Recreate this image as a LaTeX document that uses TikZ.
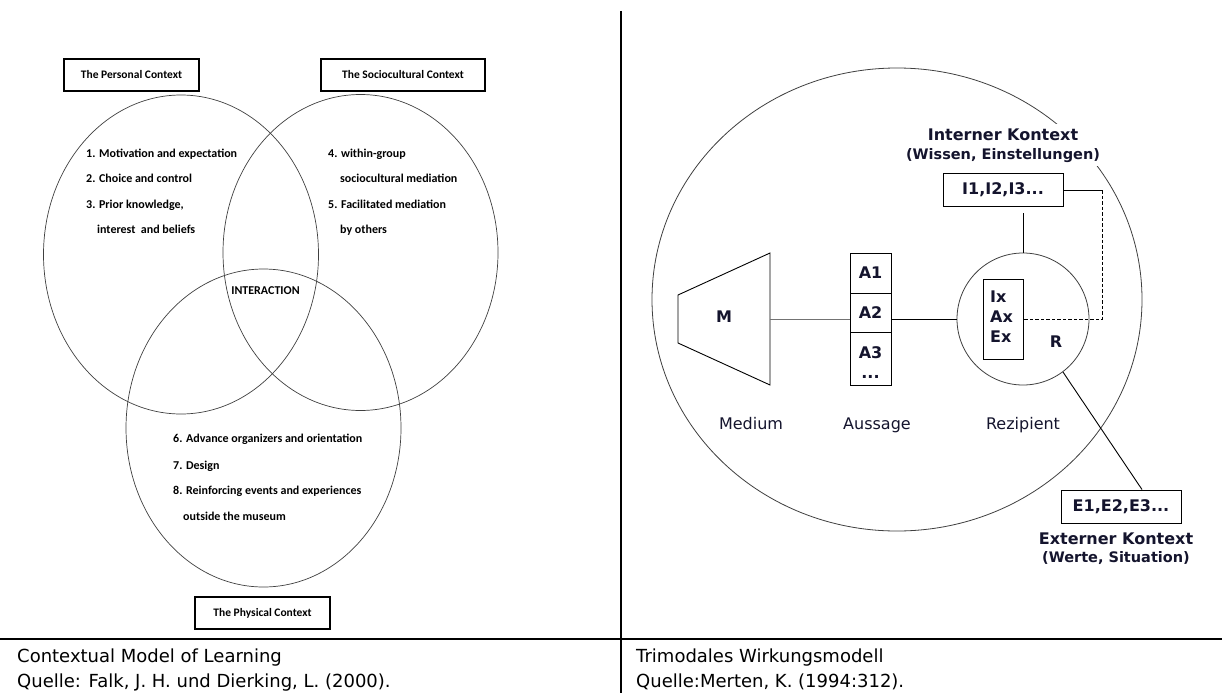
\documentclass[tikz,border=0pt]{standalone}
\usepackage{fontspec}
\usetikzlibrary{shapes.geometric}
\newfontfamily\calfont{Carlito}
\newfontfamily\verfont{DejaVu Sans}
\definecolor{ink}{RGB}{20,20,45}
\begin{document}
\begin{tikzpicture}[x=1pt,y=-1pt,
  venn/.style={ellipse, draw=black!75, line width=0.7pt, inner sep=0pt},
  ctxbox/.style={draw, line width=1.1pt, minimum height=32pt, inner sep=0pt,
    font=\calfont\bfseries\fontsize{11.5}{13}\selectfont},
  item/.style={anchor=base west, inner sep=0pt,
    font=\calfont\bfseries\fontsize{12}{14}\selectfont},
  rlabel/.style={anchor=base, inner sep=0pt, text=ink,
    font=\verfont\fontsize{16}{20}\selectfont},
  rbold/.style={anchor=base, inner sep=0pt, text=ink,
    font=\verfont\bfseries\fontsize{16}{20}\selectfont},
  rparen/.style={anchor=base, inner sep=0pt, text=ink,
    font=\verfont\bfseries\fontsize{14.5}{18}\selectfont},
  rbox/.style={draw, line width=0.9pt, inner sep=0pt, text=ink,
    font=\verfont\bfseries\fontsize{16}{20}\selectfont},
  capline/.style={anchor=base west, inner sep=0pt,
    font=\verfont\fontsize{18}{22}\selectfont},
  link/.style={line width=0.9pt},
]
\fill[white] (0,0) rectangle (1222,693);
\useasboundingbox (0,0) rectangle (1222,693);

% ---------- table rules ----------
\draw[line width=2pt] (621,11) -- (621,693);
\draw[line width=2pt] (0,639) -- (1222,639);

% ---------- Contextual Model of Learning ----------
\node[venn, minimum width=275pt, minimum height=319pt] (pers) at (181,254.5) {};
\node[venn, minimum width=275pt, minimum height=316pt] (soc)  at (360.5,252.5) {};
\node[venn, minimum width=275pt, minimum height=318pt] (phys) at (263.5,428) {};

\node[ctxbox, minimum width=135pt] (persbox) at (131.5,75)  {The Personal Context};
\node[ctxbox, minimum width=164pt] (socbox)  at (403,75)    {The Sociocultural Context};
\node[ctxbox, minimum width=135pt] (physbox) at (262.5,613) {The Physical Context};

\node[item] (p1) at (86,157)  {1. Motivation and expectation};
\node[item] (p2) at (86,182)  {2. Choice and control};
\node[item] (p3) at (86,208)  {3. Prior knowledge,};
\node[item] (p3b) at (97,233) {interest\ \ and beliefs};

\node[item] (s4) at (328,157)  {4. within-group};
\node[item] (s4b) at (340,182) {sociocultural mediation};
\node[item] (s5) at (328,208)  {5. Facilitated mediation};
\node[item] (s5b) at (340,233) {by others};

\node[item, anchor=base] (inter) at (265.5,294) {INTERACTION};

\node[item] (f6) at (173,442)  {6. Advance organizers and orientation};
\node[item] (f7) at (173,469)  {7. Design};
\node[item] (f8) at (173,494)  {8. Reinforcing events and experiences};
\node[item] (f8b) at (183,520) {outside the museum};

% ---------- Trimodales Wirkungsmodell ----------
\node[ellipse, draw=black!75, line width=0.8pt, minimum width=490pt,
      minimum height=463pt, inner sep=0pt] (world) at (897,299.5) {};

% heading of the internal context, blanking the outer circle behind it
\node[rbold, fill=white, inner xsep=2pt, inner ysep=4pt] (ik) at (1003,140) {Interner Kontext};
\node[rparen, fill=white, inner xsep=2pt, inner ysep=4pt] (ikw) at (1003,159) {(Wissen, Einstellungen)};

% medium
\draw[line width=0.9pt] (678,295) -- (770,253) -- (770,385) -- (678,343) -- cycle;
\coordinate (mr) at (770,319);
\node[rbold] (mtxt) at (724,322) {M};

% statements
\node[rbox, minimum width=41pt, minimum height=40pt] (a1) at (870.5,273) {A1};
\node[rbox, minimum width=41pt, minimum height=39pt] (a2) at (870.5,312.5) {A2};
\node[rbox, minimum width=41pt, minimum height=53pt] (a3) at (870.5,358.5) {};
\node[rbold] (a3t) at (870.5,358) {A3};
\node[rbold] (a3d) at (870.5,378) {...};

% recipient
\node[circle, draw=black!75, line width=0.8pt, minimum size=132pt, inner sep=0pt] (rc) at (1023,319) {};
\node[rbox, minimum width=40pt, minimum height=80pt] (ix) at (1003,319) {};
\node[rbold, anchor=base west] (ixt) at (990,302) {Ix};
\node[rbold, anchor=base west] (axt) at (990,322) {Ax};
\node[rbold, anchor=base west] (ext) at (990,342) {Ex};
\node[rbold] (rt) at (1056,347) {R};

% contexts
\node[rbox, minimum width=120pt, minimum height=33pt] (ibox) at (1003,190) {I1,I2,I3...};
\node[rbox, minimum width=120pt, minimum height=33pt] (ebox) at (1121,506.5) {E1,E2,E3...};
\node[rbold] (ek) at (1116,544) {Externer Kontext};
\node[rparen] (ekw) at (1116,562) {(Werte, Situation)};
\coordinate (dk) at (1102,190);

% connectors
\draw[link, black!55] (mr) -- (mr -| a2.west);
\draw[link] (rc.west -| a2.east) -- (rc.west);
\draw[link] (rc.north) -- ([yshift=-6pt]rc.north |- ibox.south);
\draw[link] (ibox.east) -- (dk);
\draw[link, dash pattern=on 3.5pt off 2pt] (dk) |- (ix.east);
\draw[link] (rc.-53) -- ([xshift=21pt]ebox.north);

% labels
\node[rlabel] (lm) at (751,429)  {Medium};
\node[rlabel] (la) at (877,429)  {Aussage};
\node[rlabel] (lr) at (1023,429) {Rezipient};

% ---------- captions ----------
\node[capline] (c1) at (17,662)  {Contextual Model of Learning};
\node[capline] (c2) at (17,687)  {Quelle: Falk, J. H. und Dierking, L. (2000).};
\node[capline] (c3) at (636,662) {Trimodales Wirkungsmodell};
\node[capline] (c4) at (636,687) {Quelle:Merten, K. (1994:312).};
\end{tikzpicture}
\end{document}
